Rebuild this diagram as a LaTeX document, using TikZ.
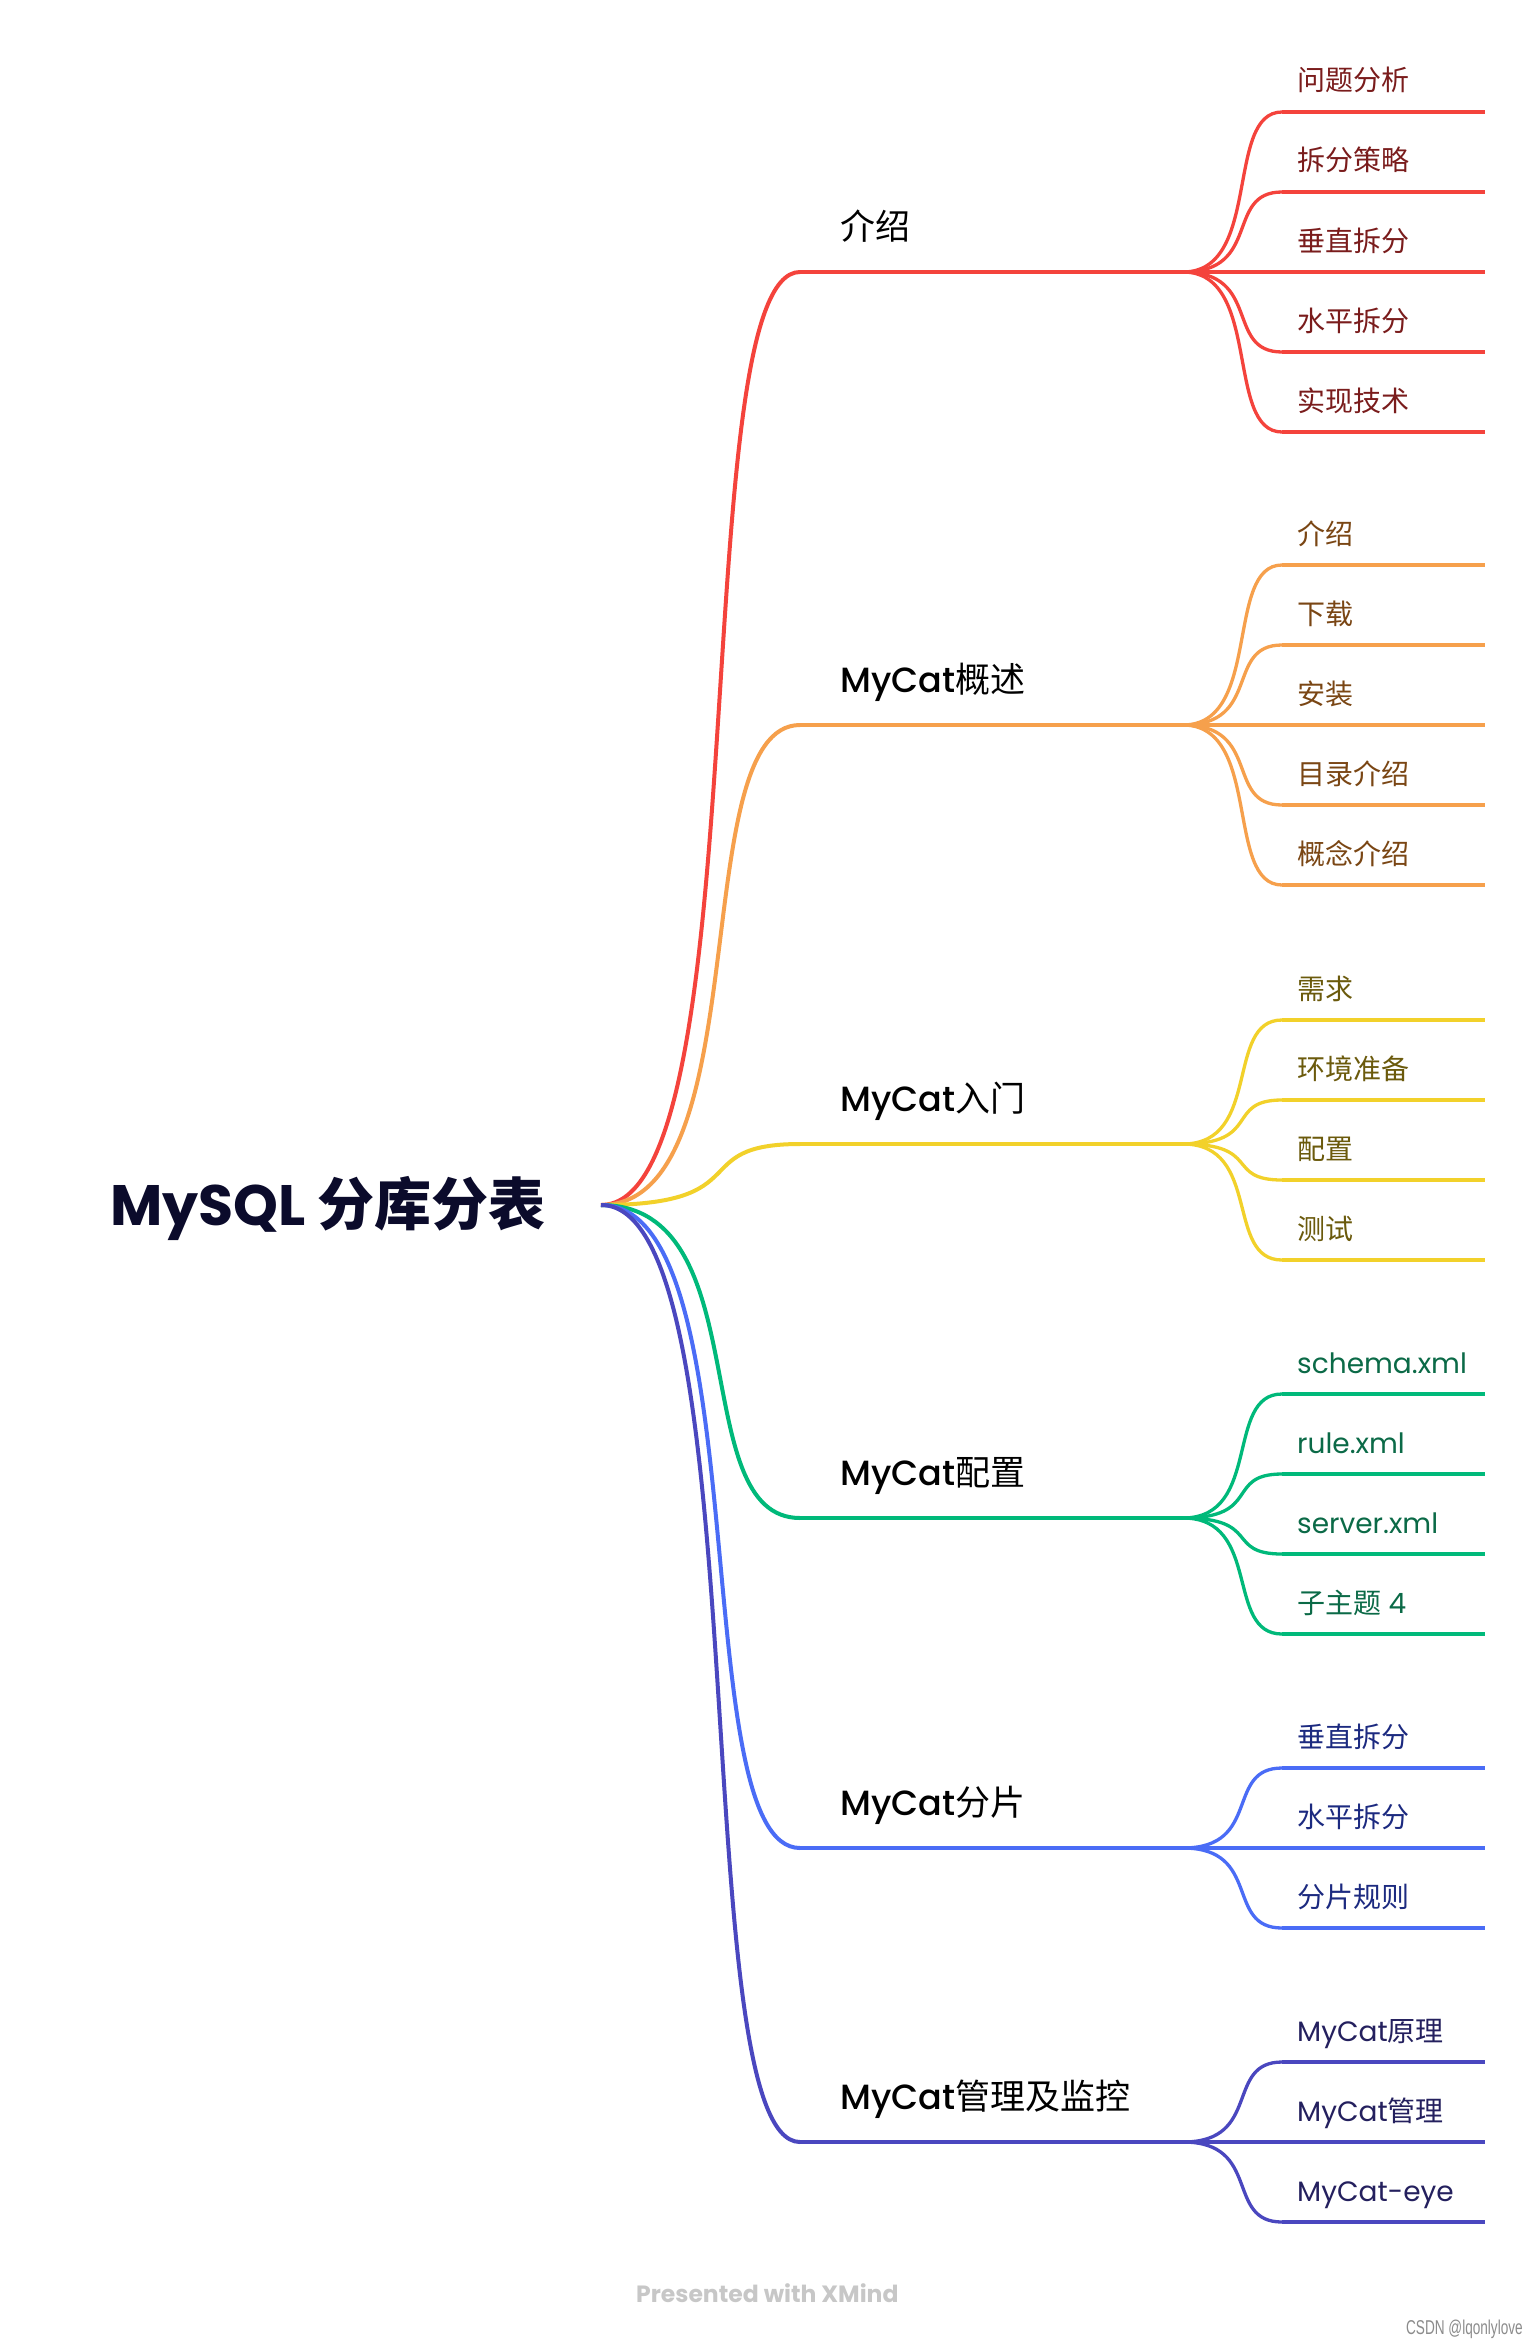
\documentclass[tikz,border=0pt]{standalone}
\usepackage{fontspec}
\setmainfont{Poppins}
\newfontfamily\lat{Poppins}
\newfontfamily\latm{Poppins}[UprightFont=* Medium]
\newfontfamily\cjk{Noto Sans CJK SC}
\newfontfamily\lib{Liberation Sans}
\usetikzlibrary{calc}
\definecolor{cRed}{HTML}{F4433C}
\definecolor{cOrange}{HTML}{F6A04C}
\definecolor{cYellow}{HTML}{F2D12A}
\definecolor{cGreen}{HTML}{00B97A}
\definecolor{cBlue}{HTML}{4A6CF6}
\definecolor{cIndigo}{HTML}{4A47BF}
\definecolor{tRed}{HTML}{7A1C1C}
\definecolor{tOrange}{HTML}{7A4614}
\definecolor{tYellow}{HTML}{6B5A0C}
\definecolor{tGreen}{HTML}{0B6A47}
\definecolor{tBlue}{HTML}{1C2A80}
\definecolor{tIndigo}{HTML}{24205E}
\definecolor{rootc}{HTML}{0B0B2B}
\newcommand\zh[1]{{\cjk #1}}
\newcommand\brcurve[3]{\draw[#1] let \p1=(#2), \p2=(#3) in (#2) .. controls ({\x1+0.8*(\x2-\x1)},\y1) and ({\x1+0.42*(\x2-\x1)},\y2) .. (#3);}
% #1 line style, #2 fork, #3 id, #4 y, #5 text colour, #6 text
\newcommand\leafitem[6]{%
  \coordinate (s#3) at (1282,#4);
  \coordinate (e#3) at (1485,#4);
  \brcurve{#1}{#2}{s#3}
  \draw[#1] (s#3) -- (e#3);
  \node[leaftext, text=#5] (t#3) at (1297,{#4-21}) {#6};}
% #1 id, #2 y, #3 line style, #4 label
\newcommand\mainbranch[4]{%
  \coordinate (c#1) at (800,#2);
  \coordinate (f#1) at (1183,#2);
  \brcurve{#3}{rootp}{c#1}
  \draw[#3] (c#1) -- (f#1);
  \node[maintext] (m#1) at (840,{#2-33}) {#4};}
\tikzset{
  mainline/.style={line width=4pt},
  leafline/.style={line width=3.3pt},
  maintext/.style={anchor=base west, inner sep=0pt, font=\latm\fontsize{35}{40}\selectfont, text=black},
  leaftext/.style={anchor=base west, inner sep=0pt, font=\lat\fontsize{28}{32}\selectfont},
}
\begin{document}
\begin{tikzpicture}[x=1pt,y=-1pt]
\useasboundingbox[fill=white] (0,0) rectangle (1536,2344);
\coordinate (rootp) at (601,1205);

% 1 介绍
\mainbranch{1}{272}{mainline,cRed}{\zh{介绍}}
\leafitem{leafline,cRed}{f1}{11}{112}{tRed}{\zh{问题分析}}
\leafitem{leafline,cRed}{f1}{12}{192}{tRed}{\zh{拆分策略}}
\leafitem{leafline,cRed}{f1}{13}{272}{tRed}{\zh{垂直拆分}}
\leafitem{leafline,cRed}{f1}{14}{352}{tRed}{\zh{水平拆分}}
\leafitem{leafline,cRed}{f1}{15}{432}{tRed}{\zh{实现技术}}

% 2 MyCat概述
\mainbranch{2}{725}{mainline,cOrange}{MyCat\zh{概述}}
\leafitem{leafline,cOrange}{f2}{21}{565}{tOrange}{\zh{介绍}}
\leafitem{leafline,cOrange}{f2}{22}{645}{tOrange}{\zh{下载}}
\leafitem{leafline,cOrange}{f2}{23}{725}{tOrange}{\zh{安装}}
\leafitem{leafline,cOrange}{f2}{24}{805}{tOrange}{\zh{目录介绍}}
\leafitem{leafline,cOrange}{f2}{25}{885}{tOrange}{\zh{概念介绍}}

% 3 MyCat入门
\mainbranch{3}{1144}{mainline,cYellow}{MyCat\zh{入门}}
\leafitem{leafline,cYellow}{f3}{31}{1020}{tYellow}{\zh{需求}}
\leafitem{leafline,cYellow}{f3}{32}{1100}{tYellow}{\zh{环境准备}}
\leafitem{leafline,cYellow}{f3}{33}{1180}{tYellow}{\zh{配置}}
\leafitem{leafline,cYellow}{f3}{34}{1260}{tYellow}{\zh{测试}}

% 4 MyCat配置
\mainbranch{4}{1518}{mainline,cGreen}{MyCat\zh{配置}}
\leafitem{leafline,cGreen}{f4}{41}{1394}{tGreen}{schema.xml}
\leafitem{leafline,cGreen}{f4}{42}{1474}{tGreen}{rule.xml}
\leafitem{leafline,cGreen}{f4}{43}{1554}{tGreen}{server.xml}
\leafitem{leafline,cGreen}{f4}{44}{1634}{tGreen}{\zh{子主题} 4}

% 5 MyCat分片
\mainbranch{5}{1848}{mainline,cBlue}{MyCat\zh{分片}}
\leafitem{leafline,cBlue}{f5}{51}{1768}{tBlue}{\zh{垂直拆分}}
\leafitem{leafline,cBlue}{f5}{52}{1848}{tBlue}{\zh{水平拆分}}
\leafitem{leafline,cBlue}{f5}{53}{1928}{tBlue}{\zh{分片规则}}

% 6 MyCat管理及监控
\mainbranch{6}{2142}{mainline,cIndigo}{MyCat\zh{管理及监控}}
\leafitem{leafline,cIndigo}{f6}{61}{2062}{tIndigo}{MyCat\zh{原理}}
\leafitem{leafline,cIndigo}{f6}{62}{2142}{tIndigo}{MyCat\zh{管理}}
\leafitem{leafline,cIndigo}{f6}{63}{2222}{tIndigo}{MyCat-eye}

% root
\node[anchor=base west, inner sep=0pt, text=rootc, font=\lat\bfseries\fontsize{57}{64}\selectfont] (root) at (110,1225) {MySQL \zh{分库分表}};

% watermarks
\node[anchor=base west, inner sep=0pt, text=black!22, font=\lat\bfseries\fontsize{23.5}{26}\selectfont] (xmind) at (636,2302) {Presented with XMind};
\node[anchor=base west, inner sep=0pt, text=black!45, font=\lib\fontsize{20}{22}\selectfont, xscale=0.68] (csdn) at (1406,2334) {CSDN @lqonlylove};
\end{tikzpicture}
\end{document}
